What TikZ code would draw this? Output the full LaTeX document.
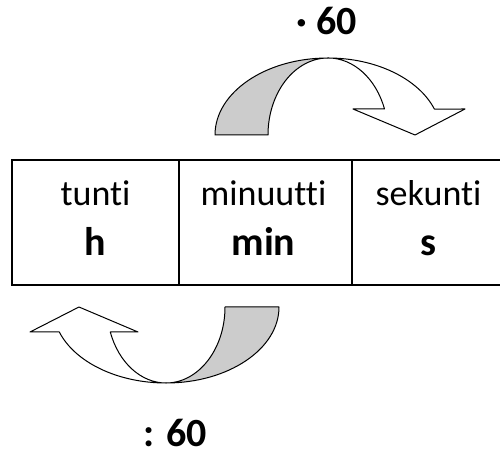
\documentclass[tikz,border=0pt]{standalone}
\usepackage{fontspec}
\setmainfont{Carlito}[Ligatures={NoCommon}]
\definecolor{bandgray}{RGB}{204,204,204}
\begin{document}
\begin{tikzpicture}[x=1pt,y=1pt,
  cell/.style={draw,line width=1.4pt,rectangle,minimum height=125pt,outer sep=0pt,inner sep=0pt},
  lbl/.style={anchor=base,inner sep=0pt,font=\fontsize{36}{40}\selectfont},
  unit/.style={anchor=base,inner sep=0pt,font=\fontsize{40}{44}\selectfont\bfseries},
  band/.style={draw,line width=1pt,line join=round},
  back/.style={band,fill=bandgray},
  front/.style={band,fill=white}]
\clip (0,0) rectangle (500,452);
% table cells
\node[cell,minimum width=167pt] (ch) at (95.5,229.5) {};
\node[cell,minimum width=173pt] (cmin) at (265.5,229.5) {};
\node[cell,minimum width=149pt] (cs) at (426.5,229.5) {};
% texts
\node[lbl] (th) at (95.5,246.3) {tunti};
\node[unit] (uh) at (95.5,196) {h};
\node[lbl] (tmin) at (263.5,246.3) {minuutti};
\node[unit] (umin) at (263.5,196) {min};
\node[lbl] (ts) at (428.5,246.3) {sekunti};
\node[unit] (us) at (428.5,196) {s};
\node[unit] (mul) at (327,417) {· 60};
\node[unit] (dv) at (175,5.5) {: 60};
% upper curved arrow (times 60)
\path[back] (215,317) arc[start angle=180,end angle=90,x radius=113,y radius=77]
  arc[start angle=90,end angle=180,x radius=60,y radius=77] -- cycle;
\path[front] (328,394) arc[start angle=90,end angle=19.7,x radius=113,y radius=77]
  -- (465,343) -- (415,317) -- (353,343) -- (384.5,343)
  arc[start angle=19.7,end angle=90,x radius=60,y radius=77] -- cycle;
% lower curved arrow (divide by 60)
\path[back] (279,145) arc[start angle=0,end angle=-90,x radius=113,y radius=76]
  arc[start angle=-90,end angle=0,x radius=59,y radius=76] -- cycle;
\path[front] (166,69) arc[start angle=-90,end angle=-160.8,x radius=113,y radius=76]
  -- (30,120) -- (79,145) -- (138,120) -- (110.3,120)
  arc[start angle=-160.8,end angle=-90,x radius=59,y radius=76] -- cycle;
\end{tikzpicture}
\end{document}
